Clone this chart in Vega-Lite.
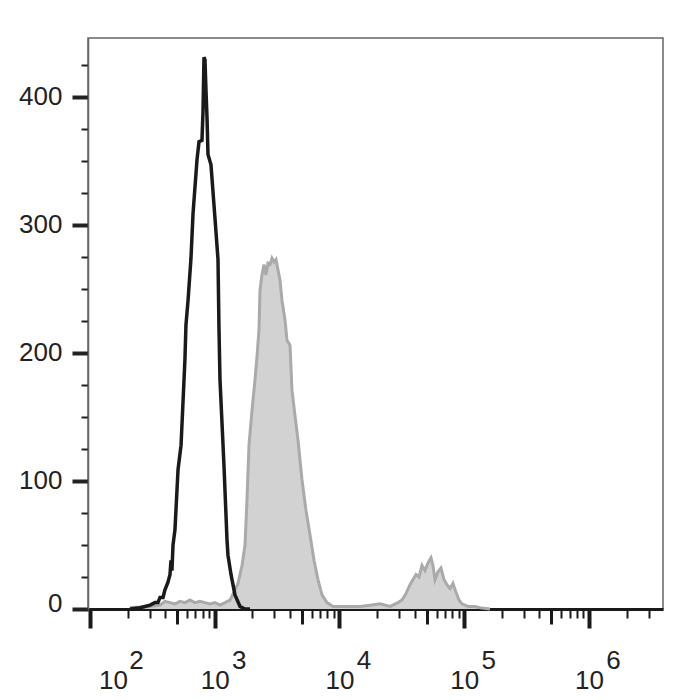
{
  "$schema": "https://vega.github.io/schema/vega-lite/v6.json",
  "width": 575,
  "height": 571,
  "autosize": {"type": "none"},
  "padding": {"left": 88, "top": 38, "right": 37, "bottom": 91},
  "background": "white",
  "config": {
    "view": {"stroke": "#666666", "strokeWidth": 1.5},
    "axis": {"grid": false, "labelFont": "Liberation Sans", "labelColor": "#222222", "title": null}
  },
  "datasets": {
    "stained": [
      {"fl": 209, "count": 1}, {"fl": 303, "count": 2}, {"fl": 364, "count": 3}, {"fl": 399, "count": 6},
      {"fl": 438, "count": 5}, {"fl": 480, "count": 4}, {"fl": 527, "count": 6}, {"fl": 577, "count": 5},
      {"fl": 633, "count": 7}, {"fl": 694, "count": 5}, {"fl": 762, "count": 6}, {"fl": 835, "count": 5},
      {"fl": 916, "count": 4}, {"fl": 1005, "count": 5}, {"fl": 1102, "count": 3}, {"fl": 1208, "count": 5},
      {"fl": 1326, "count": 7}, {"fl": 1453, "count": 15}, {"fl": 1536, "count": 20}, {"fl": 1654, "count": 34},
      {"fl": 1748, "count": 50}, {"fl": 1813, "count": 85}, {"fl": 1882, "count": 128}, {"fl": 1989, "count": 155},
      {"fl": 2102, "count": 179}, {"fl": 2181, "count": 197}, {"fl": 2263, "count": 218}, {"fl": 2305, "count": 249},
      {"fl": 2392, "count": 261}, {"fl": 2482, "count": 269}, {"fl": 2575, "count": 261}, {"fl": 2673, "count": 270},
      {"fl": 2773, "count": 269}, {"fl": 2877, "count": 274}, {"fl": 2986, "count": 271}, {"fl": 3097, "count": 273},
      {"fl": 3214, "count": 265}, {"fl": 3334, "count": 257}, {"fl": 3460, "count": 241}, {"fl": 3657, "count": 226},
      {"fl": 3795, "count": 210}, {"fl": 4012, "count": 206}, {"fl": 4161, "count": 171}, {"fl": 4399, "count": 151},
      {"fl": 4649, "count": 132}, {"fl": 5005, "count": 101}, {"fl": 5389, "count": 77}, {"fl": 5801, "count": 58},
      {"fl": 6246, "count": 38}, {"fl": 6725, "count": 23}, {"fl": 7238, "count": 11}, {"fl": 7937, "count": 5},
      {"fl": 8871, "count": 2}, {"fl": 10093, "count": 2}, {"fl": 12140, "count": 2}, {"fl": 14600, "count": 2},
      {"fl": 17560, "count": 3}, {"fl": 21120, "count": 4}, {"fl": 25400, "count": 2}, {"fl": 29440, "count": 5},
      {"fl": 31700, "count": 7}, {"fl": 34140, "count": 12}, {"fl": 36750, "count": 19}, {"fl": 38850, "count": 23},
      {"fl": 41050, "count": 27}, {"fl": 43390, "count": 25}, {"fl": 45850, "count": 34}, {"fl": 48460, "count": 30},
      {"fl": 51220, "count": 36}, {"fl": 54130, "count": 40}, {"fl": 56170, "count": 34}, {"fl": 58300, "count": 23},
      {"fl": 61610, "count": 29}, {"fl": 65110, "count": 32}, {"fl": 68820, "count": 23}, {"fl": 72710, "count": 19},
      {"fl": 76870, "count": 16}, {"fl": 81230, "count": 20}, {"fl": 85880, "count": 13}, {"fl": 90770, "count": 7},
      {"fl": 95940, "count": 4}, {"fl": 107200, "count": 2}, {"fl": 121990, "count": 2}, {"fl": 133800, "count": 1},
      {"fl": 160800, "count": 0}
    ],
    "control": [
      {"fl": 209, "count": 0}, {"fl": 252, "count": 1}, {"fl": 276, "count": 2}, {"fl": 303, "count": 3},
      {"fl": 332, "count": 5}, {"fl": 351, "count": 5}, {"fl": 364, "count": 9}, {"fl": 385, "count": 9},
      {"fl": 399, "count": 15}, {"fl": 422, "count": 21}, {"fl": 438, "count": 27}, {"fl": 446, "count": 38},
      {"fl": 454, "count": 30}, {"fl": 463, "count": 50}, {"fl": 480, "count": 62}, {"fl": 508, "count": 109},
      {"fl": 537, "count": 128}, {"fl": 577, "count": 195}, {"fl": 588, "count": 222}, {"fl": 611, "count": 241},
      {"fl": 645, "count": 274}, {"fl": 670, "count": 309}, {"fl": 721, "count": 351}, {"fl": 748, "count": 365},
      {"fl": 790, "count": 366}, {"fl": 805, "count": 388}, {"fl": 820, "count": 431}, {"fl": 835, "count": 429},
      {"fl": 851, "count": 405}, {"fl": 867, "count": 384}, {"fl": 883, "count": 355}, {"fl": 933, "count": 347},
      {"fl": 1005, "count": 305}, {"fl": 1062, "count": 273}, {"fl": 1082, "count": 218}, {"fl": 1102, "count": 179},
      {"fl": 1186, "count": 112}, {"fl": 1254, "count": 54}, {"fl": 1277, "count": 42}, {"fl": 1350, "count": 27},
      {"fl": 1453, "count": 11}, {"fl": 1594, "count": 2}, {"fl": 1748, "count": 0}, {"fl": 1917, "count": 0}
    ]
  },
  "resolve": {"axis": {"x": "independent", "y": "independent"}},
  "layer": [
    {
      "data": {"name": "stained"},
      "mark": {"type": "area", "color": "#d2d2d2", "interpolate": "linear"},
      "encoding": {
        "x": {
          "field": "fl", "type": "quantitative",
          "scale": {"type": "log", "domain": [96.4, 3920000], "nice": false},
          "axis": {
            "orient": "bottom",
            "values": [100, 200, 300, 400, 500, 600, 700, 800, 900, 1000, 2000, 3000, 4000, 5000, 6000, 7000, 8000, 9000, 10000, 20000, 30000, 40000, 50000, 60000, 70000, 80000, 90000, 100000, 200000, 300000, 400000, 500000, 600000, 700000, 800000, 900000, 1000000, 2000000, 3000000],
            "labels": false,
            "domain": true, "domainColor": "#1a1a1a", "domainWidth": 3,
            "ticks": true, "tickColor": "#1a1a1a",
            "tickSize": {"condition": [
              {"test": "datum.value==100||datum.value==1000||datum.value==10000||datum.value==100000||datum.value==1000000", "value": 19},
              {"test": "datum.value==500||datum.value==5000||datum.value==50000||datum.value==500000", "value": 15}
            ], "value": 9},
            "tickWidth": {"condition": [
              {"test": "datum.value==100||datum.value==1000||datum.value==10000||datum.value==100000||datum.value==1000000", "value": 4},
              {"test": "datum.value==500||datum.value==5000||datum.value==50000||datum.value==500000", "value": 3}
            ], "value": 2}
          }
        },
        "y": {
          "field": "count", "type": "quantitative",
          "scale": {"domain": [0, 446], "nice": false},
          "axis": {
            "orient": "left",
            "values": [0, 25, 50, 75, 100, 125, 150, 175, 200, 225, 250, 275, 300, 325, 350, 375, 400, 425],
            "labels": false,
            "domain": true, "domainColor": "#666666", "domainWidth": 1.5,
            "ticks": true, "tickColor": "#222222",
            "tickSize": {"condition": {"test": "datum.value % 100 == 0", "value": 16}, "value": 7},
            "tickWidth": {"condition": {"test": "datum.value % 100 == 0", "value": 4}, "value": 2}
          }
        }
      }
    },
    {
      "data": {"name": "stained"},
      "mark": {"type": "line", "color": "#aaaaaa", "strokeWidth": 3, "interpolate": "linear"},
      "encoding": {
        "x": {
          "field": "fl", "type": "quantitative",
          "scale": {"type": "log", "domain": [96.4, 3920000], "nice": false},
          "axis": {
            "orient": "bottom",
            "values": [100, 1000, 10000, 100000, 1000000],
            "labelExpr": "'10'",
            "labelFontSize": 26,
            "labelBaseline": "alphabetic",
            "labelAlign": "center",
            "labelPadding": 79,
            "labelFlush": false,
            "labelOverlap": false,
            "labelOffset": {"condition": {"test": "datum.value==100", "value": 23}, "value": 0},
            "domain": false, "ticks": false, "tickSize": 0
          }
        },
        "y": {
          "field": "count", "type": "quantitative",
          "scale": {"domain": [0, 446], "nice": false},
          "axis": {
            "orient": "left",
            "values": [0, 100, 200, 300, 400],
            "labelFontSize": 26,
            "labelPadding": 26,
            "labelBaseline": "middle",
            "labelFlush": false,
            "labelOffset": {"condition": {"test": "datum.value==0", "value": -6}, "value": 0},
            "domain": false, "ticks": false, "tickSize": 0
          }
        }
      }
    },
    {
      "data": {"name": "control"},
      "mark": {"type": "line", "color": "#1a1a1a", "strokeWidth": 3.5, "interpolate": "linear"},
      "encoding": {
        "x": {
          "field": "fl", "type": "quantitative",
          "scale": {"type": "log", "domain": [96.4, 3920000], "nice": false},
          "axis": {
            "orient": "bottom",
            "values": [100, 1000, 10000, 100000, 1000000],
            "labelExpr": "format(round(log(datum.value)/LN10), 'd')",
            "labelFontSize": 26,
            "labelBaseline": "alphabetic",
            "labelAlign": "center",
            "labelPadding": 59,
            "labelFlush": false,
            "labelOverlap": false,
            "labelOffset": {"condition": {"test": "datum.value==100", "value": 46}, "value": 24},
            "domain": false, "ticks": false, "tickSize": 0
          }
        },
        "y": {
          "field": "count", "type": "quantitative",
          "scale": {"domain": [0, 446], "nice": false},
          "axis": null
        }
      }
    }
  ]
}
